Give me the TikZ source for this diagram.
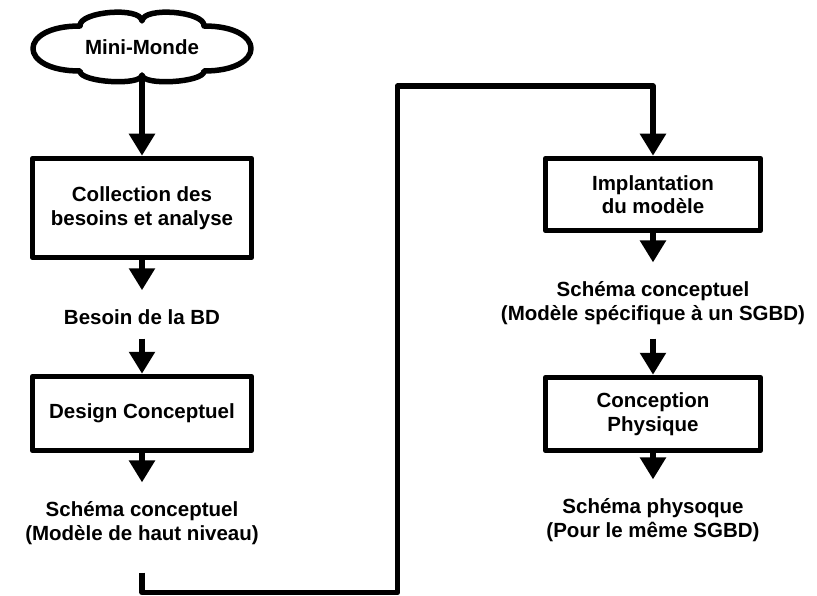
\documentclass[tikz,border=0pt]{standalone}
\usepackage{fontspec}
\setmainfont{Liberation Sans}
\usetikzlibrary{arrows.meta}

\begin{document}
\begin{tikzpicture}[x=1pt, y=-1pt, line join=round,
    every node/.style={font=\bfseries\fontsize{20.5}{23.5}\selectfont},
    etape/.style={rectangle, draw, line width=5.5pt, minimum width=219pt, inner sep=0pt, align=center},
    texte/.style={inner sep=0pt, align=center},
    fleche/.style={-{Triangle[width=25pt, length=22pt]}, line width=5.5pt}]
    \useasboundingbox (0,0) rectangle (817,596);

    % Le mini-monde, en nuage
    \node[minimum width=219pt, minimum height=56pt, inner sep=0pt] (monde) at (142,47) {Mini-Monde};
    \draw[line width=5.5pt, shift={(monde.center)}]
        (-62,-21) .. controls (-63.2,-35.7) and (-1.2,-40.7) .. (0,-26)
                  .. controls (1.2,-40.7) and (63.2,-35.7) .. (62,-21)
                  .. controls (124.7,-21) and (124.7,24) .. (62,24)
                  .. controls (62.7,35.3) and (0.7,39.3) .. (0,28)
                  .. controls (-0.7,39.3) and (-62.7,35.3) .. (-62,24)
                  .. controls (-124.7,24) and (-124.7,-21) .. cycle;

    % Colonne de gauche
    \node[etape, minimum height=99pt] (collecte) at (142,208) {Collection des\\besoins et analyse};
    \node[texte] (besoin) at (142,317) {Besoin de la BD};
    \node[etape, minimum height=74pt] (design) at (142,413.5) {Design Conceptuel};
    \node[texte] (schema1) at (142,523) {Schéma conceptuel\\(Modèle de haut niveau)};

    % Colonne de droite
    \node[etape, minimum width=215pt, minimum height=72pt] (implant) at (653,194.5) {Implantation\\du modèle};
    \node[texte] (schema2) at (653,303) {Schéma conceptuel\\(Modèle spécifique à un SGBD)};
    \node[etape, minimum width=215pt, minimum height=73pt] (physique) at (653,414) {Conception\\Physique};
    \node[texte] (schema3) at (653,520) {Schéma physoque\\(Pour le même SGBD)};

    % Coins du grand retour
    \coordinate (bas) at (397.5,592.5);
    \coordinate (haut) at (653,86);

    % Flèches de la colonne de gauche
    \draw[fleche] (monde) -- (collecte);
    \draw[fleche, shorten >=19pt] (collecte) -- (besoin);
    \draw[fleche, shorten <=14pt] (besoin) -- (design);
    \draw[fleche, shorten >=19pt] (design) -- (schema1);

    % Passage d'une colonne à l'autre
    \draw[fleche, shorten <=28pt] (schema1.south) |- (bas) |- (haut) -- (implant);

    % Flèches de la colonne de droite
    \draw[fleche, shorten >=19pt] (implant) -- (schema2);
    \draw[fleche, shorten <=14pt] (schema2) -- (physique);
    \draw[fleche, shorten >=19pt] (physique) -- (schema3);
\end{tikzpicture}
\end{document}
